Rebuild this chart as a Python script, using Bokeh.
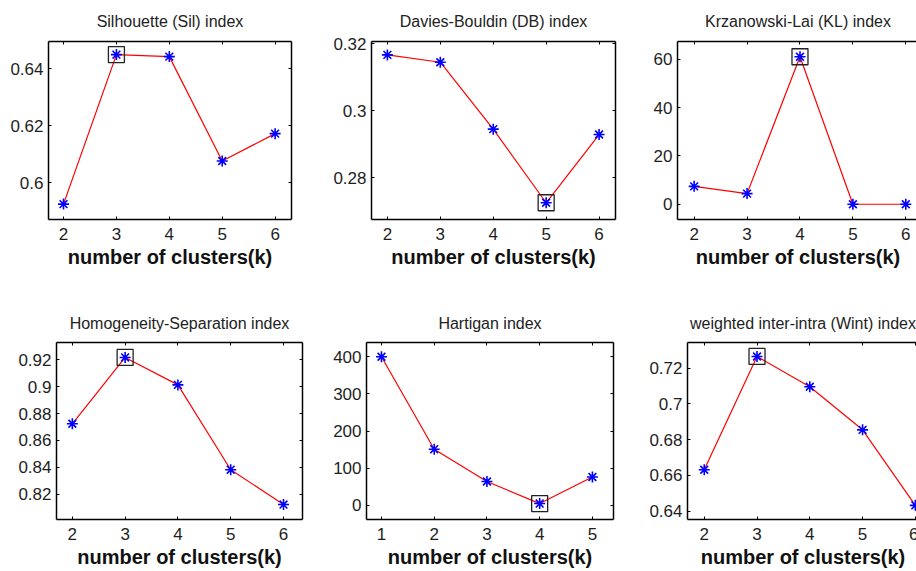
from bokeh.plotting import figure
from bokeh.layouts import column, row
from bokeh.models import LinearAxis, FixedTicker, CustomJSTickFormatter, Range1d
from bokeh.embed import file_html
from bokeh.resources import INLINE

# ---------------- data ----------------
k_std = [2, 3, 4, 5, 6]
k_hart = [1, 2, 3, 4, 5]

sil = [0.5926, 0.6450, 0.6443, 0.6077, 0.6173]
db = [0.3167, 0.3145, 0.2945, 0.2725, 0.2929]
kl = [7.4, 4.4, 61.0, 0.0, 0.0]
hs = [0.8724, 0.9217, 0.9013, 0.8383, 0.8124]
hart = [400.0, 151.0, 64.0, 4.5, 76.0]
wint = [0.6632, 0.7265, 0.7096, 0.6855, 0.6433]

titles = ["Silhouette (Sil) index", "Davies-Bouldin (DB) index",
          "Krzanowski-Lai (KL) index", "Homogeneity-Separation index",
          "Hartigan index", "weighted inter-intra (Wint) index"]
xlabel = "number of clusters(k)"
opt_k = [3, 5, 4, 3, 4, 3]

yticks_sil = [0.6, 0.62, 0.64]
yticks_db = [0.28, 0.3, 0.32]
yticks_kl = [0, 20, 40, 60]
yticks_hs = [0.82, 0.84, 0.86, 0.88, 0.9, 0.92]
yticks_hart = [0, 100, 200, 300, 400]
yticks_wint = [0.64, 0.66, 0.68, 0.7, 0.72]

FONT = "Liberation Sans"
TXT = "#1e1e1e"


def make_panel(title, xs, ys, ok, yticks, xr, yr, geom, title_gap, right_axis=True):
    ml, fw, mr, mt, fh, mb = geom
    p = figure(frame_width=fw, frame_height=fh,
               min_border_left=ml, min_border_right=mr,
               min_border_top=mt, min_border_bottom=mb,
               x_range=Range1d(*xr), y_range=Range1d(*yr),
               output_backend="svg", toolbar_location=None)
    p.grid.visible = False
    p.outline_line_color = None
    p.background_fill_color = "white"
    p.border_fill_color = "white"

    fmt = CustomJSTickFormatter(code="return String(parseFloat(tick.toFixed(4)));")
    blank = CustomJSTickFormatter(code="return '';")

    def style(ax, labels=True, standoff=5):
        ax.axis_line_color = "black"
        ax.axis_line_width = 1.5
        ax.major_tick_in = 3
        ax.major_tick_out = 0
        ax.major_tick_line_color = "black"
        ax.major_tick_line_width = 1
        ax.minor_tick_line_color = None
        if labels:
            ax.major_label_text_font = FONT
            ax.major_label_text_font_size = "17px"
            ax.major_label_text_color = TXT
            ax.major_label_standoff = standoff
        else:
            ax.formatter = blank
            ax.major_label_text_font_size = "0px"
            ax.major_label_standoff = 0

    xax = p.xaxis[0]
    yax = p.yaxis[0]
    xax.ticker = FixedTicker(ticks=list(xs))
    yax.ticker = FixedTicker(ticks=list(yticks))
    xax.formatter = fmt
    yax.formatter = fmt
    style(xax, standoff=8)
    style(yax, standoff=5)
    xax.axis_label = xlabel
    xax.axis_label_text_font = FONT
    xax.axis_label_text_font_size = "20px"
    xax.axis_label_text_font_style = "bold"
    xax.axis_label_text_color = "#111111"
    xax.axis_label_standoff = 3

    top = LinearAxis(ticker=FixedTicker(ticks=list(xs)))
    style(top, labels=False)
    p.add_layout(top, "above")
    if right_axis:
        rt = LinearAxis(ticker=FixedTicker(ticks=list(yticks)))
        style(rt, labels=False)
        p.add_layout(rt, "right")

    p.title.text = title
    p.title.align = "center"
    p.title.vertical_align = "top"
    p.title.text_font = FONT
    p.title.text_font_size = "16px"
    p.title.text_font_style = "normal"
    p.title.text_color = "#222222"
    p.title.standoff = title_gap

    p.line(xs, ys, line_color="#ff0000", line_width=1.2)
    p.scatter(xs, ys, marker="asterisk", size=11, line_color="#0000ff", line_width=1.6)
    oy = ys[list(xs).index(ok)]
    p.scatter([ok], [oy], marker="square", size=16, fill_color=None,
              line_color="#222222", line_width=1.3)
    return p


# geometry: (min_border_left, frame_width, min_border_right, min_border_top, frame_height, min_border_bottom)
p1 = make_panel(titles[0], k_std, sil, opt_k[0], yticks_sil, (1.716, 6.31), (0.5872, 0.6496),
                (48, 243, 39, 41, 178, 71), 20)
p2 = make_panel(titles[1], k_std, db, opt_k[1], yticks_db, (1.70, 6.31), (0.2675, 0.3207),
                (39, 244, 32, 41, 178, 71), 20)
p3 = make_panel(titles[2], k_std, kl, opt_k[2], yticks_kl, (1.685, 6.24), (-6.3, 67.3),
                (30, 241, 0, 41, 178, 71), 20, right_axis=False)
p4 = make_panel(titles[3], k_std, hs, opt_k[3], yticks_hs, (1.70, 6.36), (0.8013, 0.9328),
                (56, 246, 28, 52, 177, 52), 17)
p5 = make_panel(titles[4], k_hart, hart, opt_k[4], yticks_hart, (0.716, 5.40), (-38.4, 438.4),
                (35, 247, 33, 52, 177, 52), 17)
p6 = make_panel(titles[5], k_std, wint, opt_k[5], yticks_wint, (1.683, 6.06), (0.6354, 0.7343),
                (40, 231, 0, 52, 177, 52), 17, right_axis=False)

layout = column(row(p1, p2, p3), row(p4, p5, p6))
open("out.html", "w").write(file_html(layout, INLINE))
